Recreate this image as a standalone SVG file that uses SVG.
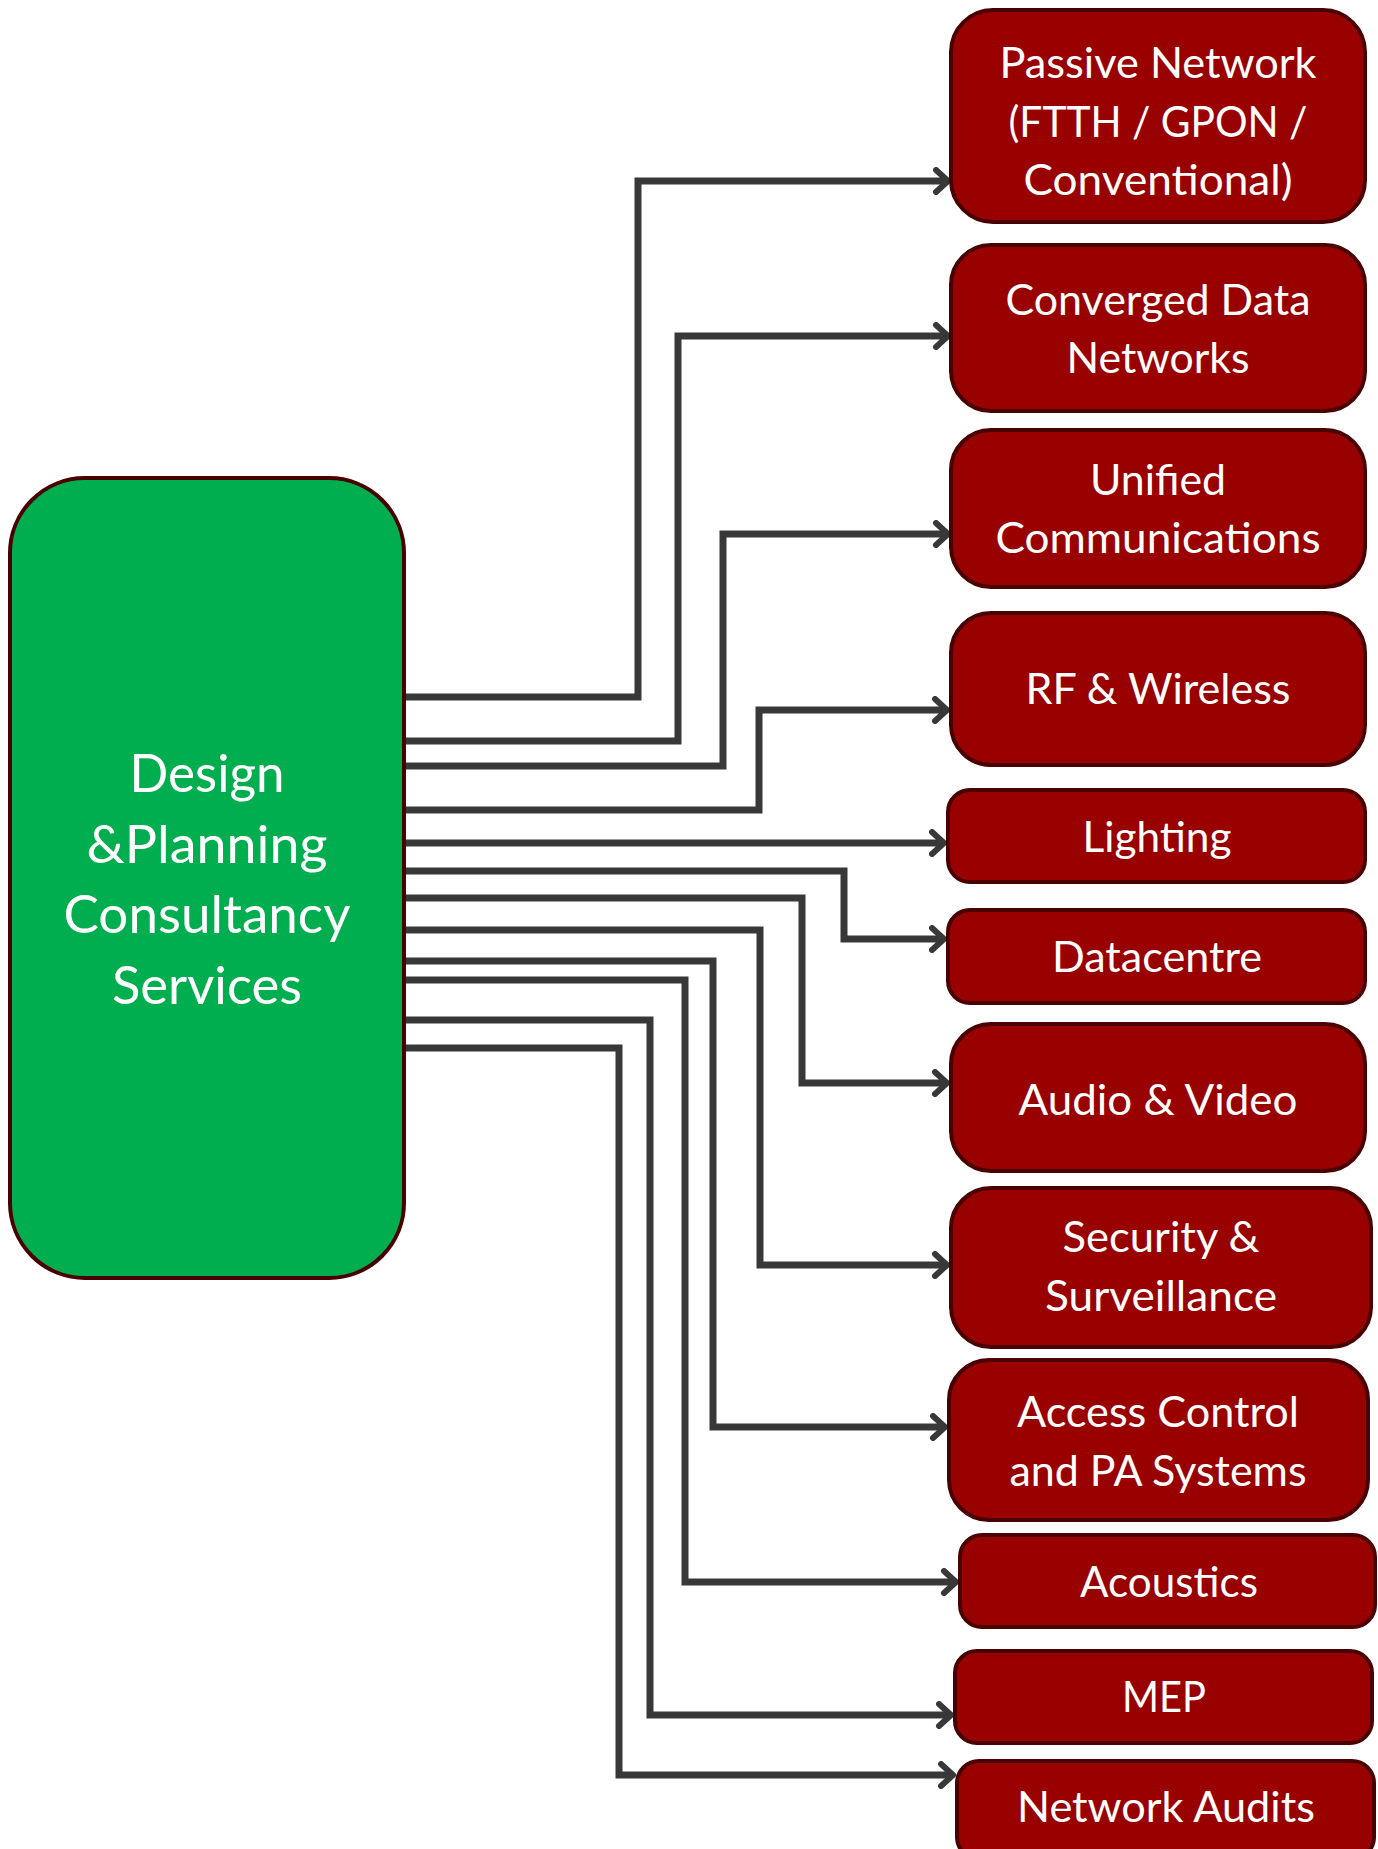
<svg xmlns="http://www.w3.org/2000/svg" width="1378" height="1849" viewBox="0 0 1378 1849">
<style>
.bg{fill:#ffffff}
.main{fill:#00AE50;stroke:#4A0000;stroke-width:4}
.box{fill:#990000;stroke:#4A0000;stroke-width:4}
.t{font-family:Lato,"Liberation Sans",sans-serif;fill:#ffffff;text-anchor:middle}
.tm{font-size:52px}
.tb{font-size:42px}
.c{fill:none;stroke:#383838;stroke-width:7;stroke-linejoin:miter;marker-end:url(#arr)}
</style>
<defs>
<marker id="arr" markerUnits="userSpaceOnUse" viewBox="-16 -14 20 28" refX="0" refY="0" markerWidth="20" markerHeight="28" orient="auto">
<path d="M-12,-11 L0,0 L-12,11" fill="none" stroke="#383838" stroke-width="6" stroke-linecap="round" stroke-linejoin="round"/>
</marker>
</defs>
<rect class="bg" x="0" y="0" width="1378" height="1849"/>
<g id="connectors">
<path class="c" d="M406 697 H638 V181 H948"/>
<path class="c" d="M406 741 H678 V336 H948"/>
<path class="c" d="M406 766 H723 V534 H948"/>
<path class="c" d="M406 810 H759 V710 H947"/>
<path class="c" d="M406 843 H944"/>
<path class="c" d="M406 871 H844 V939 H944"/>
<path class="c" d="M406 898 H802 V1083 H947"/>
<path class="c" d="M406 930 H760 V1265 H947"/>
<path class="c" d="M406 961 H713 V1427 H945"/>
<path class="c" d="M406 980 H685 V1582 H956"/>
<path class="c" d="M406 1020 H650 V1715 H951"/>
<path class="c" d="M406 1048 H619 V1775 H953"/>
</g>
<g id="design-planning">
<rect class="main" x="10" y="478" width="394" height="800" rx="75" ry="75"/>
<text class="t tm" x="207" y="792" textLength="155" lengthAdjust="spacingAndGlyphs">Design</text>
<text class="t tm" x="207" y="863" textLength="241" lengthAdjust="spacingAndGlyphs">&amp;Planning</text>
<text class="t tm" x="207" y="933" textLength="287" lengthAdjust="spacingAndGlyphs">Consultancy</text>
<text class="t tm" x="207" y="1004" textLength="190" lengthAdjust="spacingAndGlyphs">Services</text>
</g>
<g id="passive-network">
<rect class="box" x="951" y="10" width="414" height="212" rx="42" ry="42"/>
<text class="t tb" x="1158" y="78" textLength="317" lengthAdjust="spacingAndGlyphs">Passive Network</text>
<text class="t tb" x="1158" y="137" textLength="299" lengthAdjust="spacingAndGlyphs">(FTTH / GPON /</text>
<text class="t tb" x="1158" y="195" textLength="269" lengthAdjust="spacingAndGlyphs">Conventional)</text>
</g>
<g id="converged-data">
<rect class="box" x="951" y="245" width="414" height="166" rx="40" ry="40"/>
<text class="t tb" x="1158" y="315" textLength="305" lengthAdjust="spacingAndGlyphs">Converged Data</text>
<text class="t tb" x="1158" y="373" textLength="183" lengthAdjust="spacingAndGlyphs">Networks</text>
</g>
<g id="unified-comms">
<rect class="box" x="951" y="430" width="414" height="157" rx="40" ry="40"/>
<text class="t tb" x="1158" y="495" textLength="136" lengthAdjust="spacingAndGlyphs">Unified</text>
<text class="t tb" x="1158" y="553" textLength="325" lengthAdjust="spacingAndGlyphs">Communications</text>
</g>
<g id="rf-wireless">
<rect class="box" x="951" y="613" width="414" height="152" rx="40" ry="40"/>
<text class="t tb" x="1158" y="704" textLength="265" lengthAdjust="spacingAndGlyphs">RF &amp; Wireless</text>
</g>
<g id="lighting">
<rect class="box" x="948" y="790" width="417" height="92" rx="22" ry="22"/>
<text class="t tb" x="1157" y="852" textLength="149" lengthAdjust="spacingAndGlyphs">Lighting</text>
</g>
<g id="datacentre">
<rect class="box" x="948" y="910" width="417" height="93" rx="22" ry="22"/>
<text class="t tb" x="1157" y="972" textLength="210" lengthAdjust="spacingAndGlyphs">Datacentre</text>
</g>
<g id="audio-video">
<rect class="box" x="951" y="1024" width="414" height="147" rx="40" ry="40"/>
<text class="t tb" x="1158" y="1115" textLength="279" lengthAdjust="spacingAndGlyphs">Audio &amp; Video</text>
</g>
<g id="security">
<rect class="box" x="951" y="1188" width="420" height="159" rx="40" ry="40"/>
<text class="t tb" x="1161" y="1252" textLength="197" lengthAdjust="spacingAndGlyphs">Security &amp;</text>
<text class="t tb" x="1161" y="1311" textLength="232" lengthAdjust="spacingAndGlyphs">Surveillance</text>
</g>
<g id="access-control">
<rect class="box" x="949" y="1360" width="419" height="160" rx="40" ry="40"/>
<text class="t tb" x="1158" y="1427" textLength="282" lengthAdjust="spacingAndGlyphs">Access Control</text>
<text class="t tb" x="1158" y="1486" textLength="297" lengthAdjust="spacingAndGlyphs">and PA Systems</text>
</g>
<g id="acoustics">
<rect class="box" x="960" y="1535" width="415" height="92" rx="22" ry="22"/>
<text class="t tb" x="1169" y="1597" textLength="178" lengthAdjust="spacingAndGlyphs">Acoustics</text>
</g>
<g id="mep">
<rect class="box" x="955" y="1651" width="417" height="92" rx="22" ry="22"/>
<text class="t tb" x="1164" y="1712" textLength="84" lengthAdjust="spacingAndGlyphs">MEP</text>
</g>
<g id="network-audits">
<rect class="box" x="957" y="1761" width="417" height="98" rx="22" ry="22"/>
<text class="t tb" x="1166" y="1822" textLength="298" lengthAdjust="spacingAndGlyphs">Network Audits</text>
</g>
</svg>
